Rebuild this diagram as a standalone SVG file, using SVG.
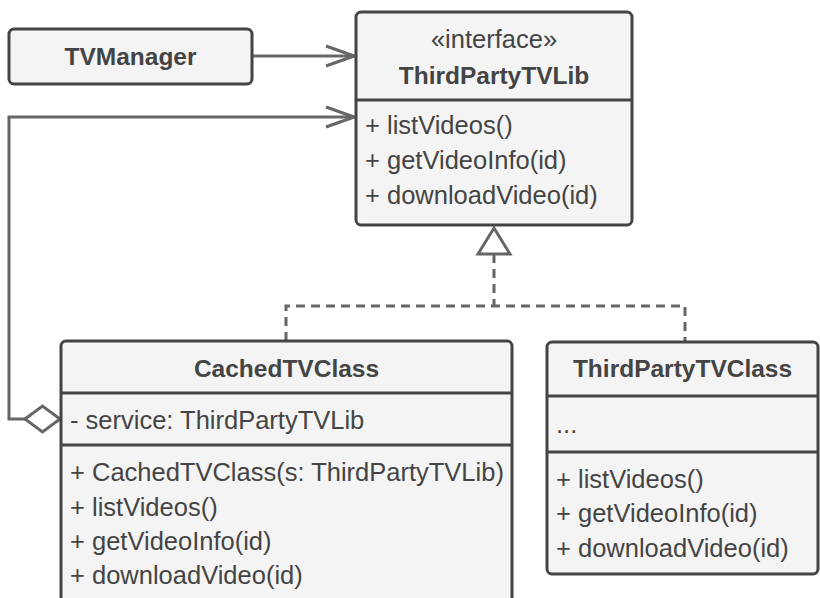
<svg xmlns="http://www.w3.org/2000/svg" width="820" height="598" viewBox="0 0 820 598">
<defs>
<style>
.box{fill:#f4f4f4;stroke:#444;stroke-width:3}
.div{stroke:#444;stroke-width:3}
.t{font-family:"Liberation Sans",Arial,sans-serif;font-size:25.5px;fill:#444}
.b{font-family:"Liberation Sans",Arial,sans-serif;font-size:24.5px;font-weight:bold;fill:#444}
.c{fill:none;stroke:#666;stroke-width:3}
.d{fill:none;stroke:#666;stroke-width:3;stroke-dasharray:9 6}
</style>
<marker id="open" markerWidth="32" markerHeight="24" refX="30" refY="12" orient="auto" markerUnits="userSpaceOnUse">
<path d="M2,2 L30,12 L2,22" fill="none" stroke="#666" stroke-width="3"/>
</marker>
</defs>
<rect width="820" height="598" fill="#fff"/>
<g id="connectors">
<line class="c" x1="252" y1="56" x2="354" y2="56" marker-end="url(#open)"/>
<polyline class="c" points="25,419 9,419 9,117 354,117" marker-end="url(#open)"/>
<path d="M25,419 L42.5,406 L60,419 L42.5,432 Z" fill="#fff" stroke="#666" stroke-width="3"/>
<polyline class="d" points="494,254 494,306"/>
<polyline class="d" points="286,341 286,306 685,306 685,342"/>
<path d="M494,228 L510,254 L478,254 Z" fill="#fff" stroke="#666" stroke-width="3"/>
</g>
<g id="TVManager">
<rect class="box" x="9" y="29" width="243" height="55" rx="5"/>
<text class="b" x="130.5" y="65" text-anchor="middle">TVManager</text>
</g>
<g id="ThirdPartyTVLib">
<rect class="box" x="356" y="12" width="276" height="213" rx="5"/>
<line class="div" x1="356" y1="100" x2="632" y2="100"/>
<text class="t" x="494" y="48" text-anchor="middle">«interface»</text>
<text class="b" x="494" y="84" text-anchor="middle">ThirdPartyTVLib</text>
<text class="t" x="365" y="134">+ listVideos()</text>
<text class="t" x="365" y="169">+ getVideoInfo(id)</text>
<text class="t" x="365" y="204">+ downloadVideo(id)</text>
</g>
<g id="CachedTVClass">
<rect class="box" x="61" y="341" width="451" height="275" rx="5"/>
<line class="div" x1="61" y1="393" x2="512" y2="393"/>
<line class="div" x1="61" y1="445" x2="512" y2="445"/>
<text class="b" x="286.5" y="377" text-anchor="middle">CachedTVClass</text>
<text class="t" x="70" y="429">- service: ThirdPartyTVLib</text>
<text class="t" x="70" y="481">+ CachedTVClass(s: ThirdPartyTVLib)</text>
<text class="t" x="70" y="516">+ listVideos()</text>
<text class="t" x="70" y="550">+ getVideoInfo(id)</text>
<text class="t" x="70" y="584">+ downloadVideo(id)</text>
</g>
<g id="ThirdPartyTVClass">
<rect class="box" x="547" y="342" width="271" height="232" rx="5"/>
<line class="div" x1="547" y1="396" x2="818" y2="396"/>
<line class="div" x1="547" y1="452" x2="818" y2="452"/>
<text class="b" x="682.5" y="377" text-anchor="middle">ThirdPartyTVClass</text>
<text class="t" x="556" y="433">...</text>
<text class="t" x="556" y="488">+ listVideos()</text>
<text class="t" x="556" y="522">+ getVideoInfo(id)</text>
<text class="t" x="556" y="557">+ downloadVideo(id)</text>
</g>
</svg>
